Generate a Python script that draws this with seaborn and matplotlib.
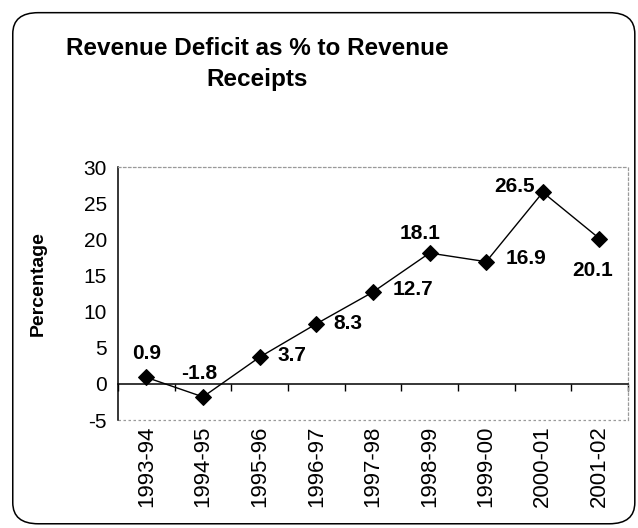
import matplotlib
matplotlib.use("Agg")
import matplotlib.pyplot as plt
from matplotlib.patches import FancyBboxPatch
from matplotlib.ticker import FixedLocator
import seaborn as sns
import pandas as pd

years = ["1993-94", "1994-95", "1995-96", "1996-97", "1997-98",
         "1998-99", "1999-00", "2000-01", "2001-02"]
deficit_pct = [0.9, -1.8, 3.7, 8.3, 12.7, 18.1, 16.9, 26.5, 20.1]
# label offsets (points) for each value label
label_offsets = [(0, 17), (-3, 17), (23, 1), (23, 0), (29, 2),
                 (-7, 14), (29, 2), (-20, 4), (-5, -23)]
y_ticks = [-5, 0, 5, 10, 15, 20, 25, 30]

sns.set_theme(style="white")
plt.rcParams["font.family"] = ["Liberation Sans", "DejaVu Sans"]
plt.rcParams["axes.unicode_minus"] = False
for key in ("text.color", "axes.labelcolor", "xtick.color", "ytick.color"):
    plt.rcParams[key] = "black"

df = pd.DataFrame({"Year": years, "Deficit": deficit_pct})

fig = plt.figure(figsize=(6.38, 5.28), dpi=100)
fig.patch.set_facecolor("white")

# rounded frame around the whole chart
frame = FancyBboxPatch((0.02, 0.008), 0.975, 0.968,
                       boxstyle="round,pad=0,rounding_size=0.04",
                       transform=fig.transFigure, fill=False,
                       edgecolor="black", linewidth=1.1, zorder=0)
fig.patches.append(frame)

ax = fig.add_axes([0.185, 0.2045, 0.799, 0.4792])
sns.lineplot(data=df, x="Year", y="Deficit", ax=ax, sort=False,
             color="black", linewidth=1.0, marker="D", markersize=8.5,
             markeredgecolor="black", markerfacecolor="black")

for i, (v, off) in enumerate(zip(deficit_pct, label_offsets)):
    ax.annotate(f"{v}", (i, v), xytext=off, textcoords="offset points",
                ha="center", va="center", fontsize=15, fontweight="bold",
                color="black")

ax.set_xlim(-0.5, len(years) - 0.5)
ax.set_ylim(-5, 30)
ax.set_yticks(y_ticks)
ax.set_yticklabels([str(t) for t in y_ticks], fontsize=15)
ax.tick_params(axis="y", length=4, width=1, direction="out", color="black", pad=4)

# category axis drawn along the zero line, labels below the plot area
ax.spines["bottom"].set_position(("data", 0))
ax.spines["bottom"].set_color("black")
ax.spines["bottom"].set_linewidth(1.1)
ax.set_xticks(range(len(years)))
ax.set_xticklabels(years, rotation=90, fontsize=16)
ax.xaxis.set_minor_locator(FixedLocator([i - 0.5 for i in range(len(years) + 1)]))
ax.tick_params(axis="x", which="major", length=0, pad=30)
ax.tick_params(axis="x", which="minor", length=5, width=1, direction="out",
               color="black", bottom=True)

ax.spines["left"].set_color("black")
ax.spines["left"].set_linewidth(1.1)
for side in ("top", "right"):
    ax.spines[side].set_color("#9a9a9a")
    ax.spines[side].set_linestyle((0, (2, 2)))
    ax.spines[side].set_linewidth(0.9)
ax.axhline(-5, color="#9a9a9a", linestyle=(0, (2, 2)), linewidth=0.9, clip_on=False)

ax.set_xlabel("")
ax.set_ylabel("Percentage", fontsize=14, fontweight="bold")
ax.yaxis.set_label_coords(-0.139, 0.54)

fig.text(0.403, 0.878, "Revenue Deficit as % to Revenue\nReceipts",
         ha="center", va="center", fontsize=17.5, fontweight="bold",
         linespacing=1.45)

fig.savefig("out.png", dpi=100, facecolor="white")
